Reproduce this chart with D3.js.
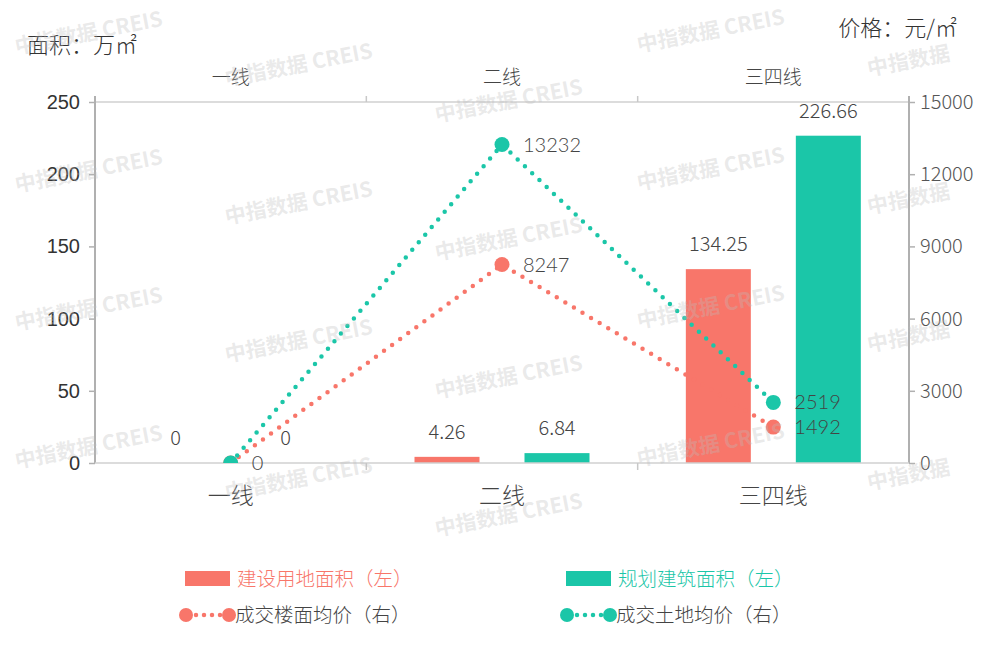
<!DOCTYPE html>
<html><head><meta charset="utf-8">
<script src="https://cdn.jsdelivr.net/npm/d3@7"></script>
<style>body{margin:0;background:#fff}svg{display:block}</style>
</head><body><svg id="c" width="992" height="653"></svg>
<script>
const categories = ["一线", "二线", "三四线"];
const landArea = [0, 4.26, 134.25];
const buildArea = [0, 6.84, 226.66];
const floorPrice = [0, 8247, 1492];
const landPrice = [0, 13232, 2519];
const leftTicks = [0, 50, 100, 150, 200, 250];
const rightTicks = [0, 3000, 6000, 9000, 12000, 15000];
const seriesNames = ["建设用地面积（左）", "规划建筑面积（左）", "成交楼面均价（右）", "成交土地均价（右）"];
const leftTitle = "面积：万㎡";
const rightTitle = "价格：元/㎡";
const watermarkText = "中指数据  CREIS";
const watermarkShort = "中指数据";

const RED = "#F8766A", GREEN = "#1BC6A8";
const CJK = "'Noto Sans CJK SC','Noto Sans',sans-serif";
const NUM = "Lato,'Noto Sans',sans-serif";
const svg = d3.select("#c");
const m = {l: 95, r: 909, t: 102, b: 463};
const x = d3.scaleBand().domain(categories).range([m.l, m.r]);
const bw = x.bandwidth();
const cx = c => x(c) + bw / 2;
const x1 = d3.scaleBand().domain(["land", "build"]).range([-87.5, 87.5]).paddingInner(45 / 110);
const yL = d3.scaleLinear().domain([0, 250]).range([m.b, m.t]);
const yR = d3.scaleLinear().domain([0, 15000]).range([m.b, m.t]);

svg.append("defs").append("clipPath").attr("id", "plotclip")
  .append("rect").attr("x", 0).attr("y", 0).attr("width", 992).attr("height", m.b);

// top & bottom category lines
svg.append("line").attr("x1", m.l).attr("x2", m.r).attr("y1", m.t).attr("y2", m.t).attr("stroke", "#d0d0d0").attr("stroke-width", 1.5);
svg.selectAll(".ttick").data(categories.slice(1)).join("line")
  .attr("x1", d => x(d)).attr("x2", d => x(d)).attr("y1", m.t).attr("y2", m.t - 6).attr("stroke", "#c8c8c8").attr("stroke-width", 1.5);
svg.selectAll(".tlab").data(categories).join("text")
  .attr("x", cx).attr("y", 84).attr("text-anchor", "middle")
  .attr("font-family", CJK).attr("font-weight", 300).attr("font-size", 19).attr("fill", "#444").text(d => d);

// left axis
const gL = svg.append("g").attr("transform", `translate(${m.l},0)`)
  .call(d3.axisLeft(yL).tickValues(leftTicks).tickSize(6).tickSizeOuter(0).tickPadding(9));
gL.select(".domain").attr("stroke", "#b0b0b0").attr("stroke-width", 2).attr("d", `M0,${m.t - 6}V${m.b}`);
gL.selectAll(".tick line").attr("stroke", "#b0b0b0").attr("stroke-width", 1.5);
gL.selectAll(".tick text").attr("font-family", "'Liberation Sans',Arial,sans-serif").attr("font-size", 20).attr("fill", "#333");

// right axis
const gR = svg.append("g").attr("transform", `translate(${m.r},0)`)
  .call(d3.axisRight(yR).tickValues(rightTicks).tickFormat(d3.format("d")).tickSize(6).tickSizeOuter(0).tickPadding(5));
gR.select(".domain").attr("stroke", "#b0b0b0").attr("stroke-width", 2).attr("d", `M0,${m.t - 6}V${m.b}`);
gR.selectAll(".tick line").attr("stroke", "#b0b0b0").attr("stroke-width", 1.5);
gR.selectAll(".tick text").attr("font-family", CJK).attr("font-weight", 300).attr("font-size", 20).attr("fill", "#555");

// bars
const barData = [];
categories.forEach((c, i) => {
  barData.push({c, k: "land", v: landArea[i], col: RED});
  barData.push({c, k: "build", v: buildArea[i], col: GREEN});
});
svg.selectAll(".bar").data(barData).join("rect")
  .attr("x", d => cx(d.c) + x1(d.k)).attr("width", x1.bandwidth())
  .attr("y", d => yL(d.v)).attr("height", d => m.b - yL(d.v)).attr("fill", d => d.col);
svg.selectAll(".blab").data(barData).join("text")
  .attr("x", d => cx(d.c) + x1(d.k) + x1.bandwidth() / 2).attr("y", d => yL(d.v) - 18)
  .attr("text-anchor", "middle").attr("font-family", CJK).attr("font-weight", 300)
  .attr("font-size", 20).attr("fill", "#444").text(d => d.v);

// bottom line
svg.append("line").attr("x1", m.l).attr("x2", m.r).attr("y1", m.b).attr("y2", m.b).attr("stroke", "#d0d0d0").attr("stroke-width", 1.5);
svg.selectAll(".btick").data(categories.slice(1)).join("line")
  .attr("x1", d => x(d)).attr("x2", d => x(d)).attr("y1", m.b).attr("y2", m.b + 7).attr("stroke", "#c8c8c8").attr("stroke-width", 1.5);
svg.selectAll(".blab2").data(categories).join("text")
  .attr("x", cx).attr("y", 504).attr("text-anchor", "middle")
  .attr("font-family", CJK).attr("font-weight", 300).attr("font-size", 23).attr("fill", "#444").text(d => d);

// lines
const line = d3.line().x(d => cx(d.c)).y(d => yR(d.v));
const lineSeries = [
  {vals: floorPrice, col: RED},
  {vals: landPrice, col: GREEN}
];
const gLines = svg.append("g").attr("clip-path", "url(#plotclip)");
lineSeries.forEach(s => {
  const pts = categories.map((c, i) => ({c, v: s.vals[i]}));
  gLines.append("path").datum(pts).attr("d", line).attr("fill", "none")
    .attr("stroke", s.col).attr("stroke-width", 4.5).attr("stroke-linecap", "round").attr("stroke-dasharray", "0 10");
});
lineSeries.forEach(s => {
  const pts = categories.map((c, i) => ({c, v: s.vals[i]}));
  gLines.selectAll(null).data(pts).join("circle")
    .attr("cx", d => cx(d.c)).attr("cy", d => yR(d.v)).attr("r", 7.5).attr("fill", s.col);
});
lineSeries.forEach((s, si) => {
  const pts = categories.map((c, i) => ({c, v: s.vals[i]})).filter(d => !(si === 0 && d.v === 0));
  svg.selectAll(null).data(pts).join("text")
    .attr("x", d => cx(d.c) + 21).attr("y", d => yR(d.v) + 7)
    .attr("font-family", NUM).attr("font-weight", 300).attr("font-size", 20).attr("fill", "#444").text(d => d.v);
});

// axis titles
svg.append("text").attr("x", 27).attr("y", 53).attr("font-family", CJK).attr("font-weight", 300).attr("font-size", 22).attr("fill", "#333").text(leftTitle);
svg.append("text").attr("x", 957).attr("y", 36).attr("text-anchor", "end").attr("font-family", CJK).attr("font-weight", 300).attr("font-size", 22).attr("fill", "#333").text(rightTitle);

// legend
const lg = svg.append("g").attr("font-family", CJK).attr("font-weight", 300).attr("font-size", 19.5);
const legendPos = [{x: 185, y: 579}, {x: 566, y: 579}, {x: 185, y: 615}, {x: 566, y: 615}];
const legendCols = [RED, GREEN, RED, GREEN];
seriesNames.forEach((n, i) => {
  const p = legendPos[i];
  if (i < 2) {
    lg.append("rect").attr("x", p.x).attr("y", p.y - 8).attr("width", 45).attr("height", 15).attr("fill", legendCols[i]);
    lg.append("text").attr("x", p.x + 52).attr("y", p.y + 7).attr("fill", legendCols[i]).text(n);
  } else {
    lg.append("line").attr("x1", p.x + 3).attr("x2", p.x + 43).attr("y1", p.y).attr("y2", p.y)
      .attr("stroke", legendCols[i]).attr("stroke-width", 4.5).attr("stroke-linecap", "round").attr("stroke-dasharray", "0 8");
    lg.append("circle").attr("cx", p.x + 1).attr("cy", p.y).attr("r", 7).attr("fill", legendCols[i]);
    lg.append("circle").attr("cx", p.x + 44).attr("cy", p.y).attr("r", 7).attr("fill", legendCols[i]);
    lg.append("text").attr("x", p.x + 50).attr("y", p.y + 7).attr("fill", "#444").text(n);
  }
});

// watermarks
const wmCols = [90, 300, 510, 712, 910];
const wmStart = [40, 72, 108, 38, 68];
const wg = svg.append("g").attr("pointer-events", "none");
wmCols.forEach((wx, ci) => {
  for (let k = 0; k < 4; k++) {
    const wy = wmStart[ci] + k * 138;
    const t = ci === 4 ? watermarkShort : watermarkText;
    wg.append("text").attr("x", wx).attr("y", wy).attr("text-anchor", "middle")
      .attr("transform", `rotate(-11 ${wx} ${wy})`)
      .attr("font-family", CJK).attr("font-weight", 700).attr("font-size", 21)
      .attr("fill", "#bdbdbd").attr("fill-opacity", 0.33).text(t);
  }
});
</script></body></html>
